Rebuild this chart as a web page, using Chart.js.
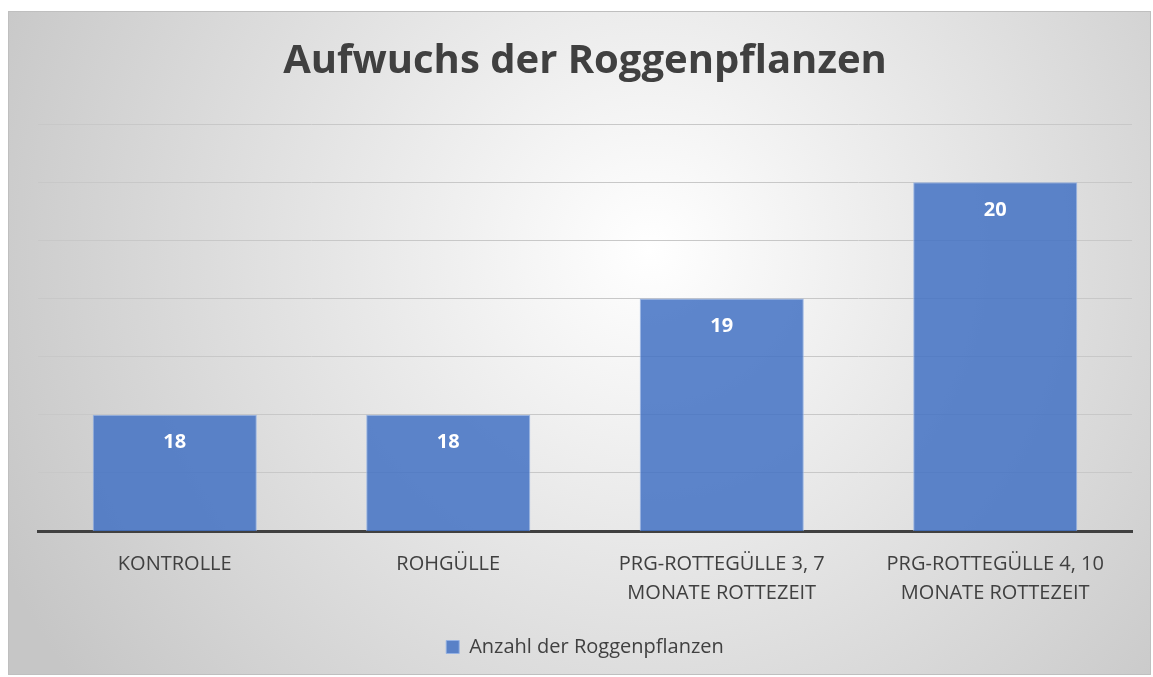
<!DOCTYPE html>
<html>
<head>
<meta charset="utf-8">
<script src="https://cdn.jsdelivr.net/npm/chart.js@4"></script>
<style>
  html, body { margin: 0; padding: 0; background: #fff; }
  #wrap { width: 1153px; height: 677px; }
</style>
</head>
<body>
<div id="wrap"><canvas id="chart1" width="1153" height="677"></canvas></div>
<script>
const categories = [
    'KONTROLLE',
    'ROHGÜLLE',
    ['PRG-ROTTEGÜLLE 3, 7', 'MONATE ROTTEZEIT'],
    ['PRG-ROTTEGÜLLE 4, 10', 'MONATE ROTTEZEIT']
];
const plantCounts = [18, 18, 19, 20];
const seriesName = 'Anzahl der Roggenpflanzen';
const chartTitle = 'Aufwuchs der Roggenpflanzen';
const yMin = 17;
const yMax = 20.5;
const yStep = 0.5;

document.addEventListener("DOMContentLoaded", function () {
    const ctx = document.getElementById('chart1').getContext('2d');

    // gradient panel behind everything
    const panelBg = {
        id: 'panelBg',
        beforeDraw(chart) {
            const c = chart.ctx;
            c.save();
            c.fillStyle = '#ffffff';
            c.fillRect(0, 0, chart.width, chart.height);
            const g = c.createRadialGradient(650, 250, 0, 650, 250, 720);
            g.addColorStop(0, '#ffffff');
            g.addColorStop(1, '#c6c6c6');
            c.fillStyle = g;
            c.fillRect(8, 11, 1143, 664);
            c.strokeStyle = '#bfbfbf';
            c.lineWidth = 1;
            c.strokeRect(8.5, 11.5, 1142, 663);
            c.restore();
        }
    };

    // value labels inside the bars
    const barLabels = {
        id: 'barLabels',
        afterDatasetsDraw(chart) {
            const c = chart.ctx;
            const meta = chart.getDatasetMeta(0);
            c.save();
            c.fillStyle = '#ffffff';
            c.font = 'bold 20px "Open Sans"';
            c.textAlign = 'center';
            c.textBaseline = 'middle';
            meta.data.forEach(function (bar, i) {
                c.fillText(String(chart.data.datasets[0].data[i]), bar.x, bar.y + 28);
            });
            c.restore();
        }
    };

    new Chart(ctx, {
        type: 'bar',
        data: {
            labels: categories,
            datasets: [{
                label: seriesName,
                data: plantCounts,
                backgroundColor: 'rgba(68, 114, 196, 0.86)',
                borderColor: 'rgba(150, 178, 228, 0.9)',
                borderWidth: 1,
                categoryPercentage: 0.6,
                barPercentage: 1
            }]
        },
        options: {
            responsive: false,
            animation: false,
            layout: { padding: { left: 38, right: 21, top: 0, bottom: 10 } },
            plugins: {
                title: {
                    display: true,
                    text: chartTitle,
                    color: '#404040',
                    font: { family: 'Open Sans', size: 40, weight: 'bold', lineHeight: 1.2 },
                    padding: { top: 38, bottom: 38 }
                },
                legend: {
                    position: 'bottom',
                    labels: {
                        color: '#404040',
                        font: { family: 'Open Sans', size: 20 },
                        boxWidth: 13,
                        boxHeight: 13,
                        padding: 10
                    }
                },
                tooltip: { enabled: false }
            },
            scales: {
                x: {
                    grid: { display: false, drawTicks: false },
                    border: { color: '#404040', width: 3 },
                    ticks: {
                        color: '#404040',
                        font: { family: 'Open Sans', size: 20, lineHeight: 1.45 },
                        padding: 19,
                        maxRotation: 0
                    }
                },
                y: {
                    min: yMin,
                    max: yMax,
                    ticks: { display: false, stepSize: yStep },
                    grid: { color: '#c8c8c8', drawTicks: false },
                    border: { display: false },
                    afterFit(scale) { scale.width = 0; }
                }
            }
        },
        plugins: [panelBg, barLabels]
    });
});
</script>
</body>
</html>
